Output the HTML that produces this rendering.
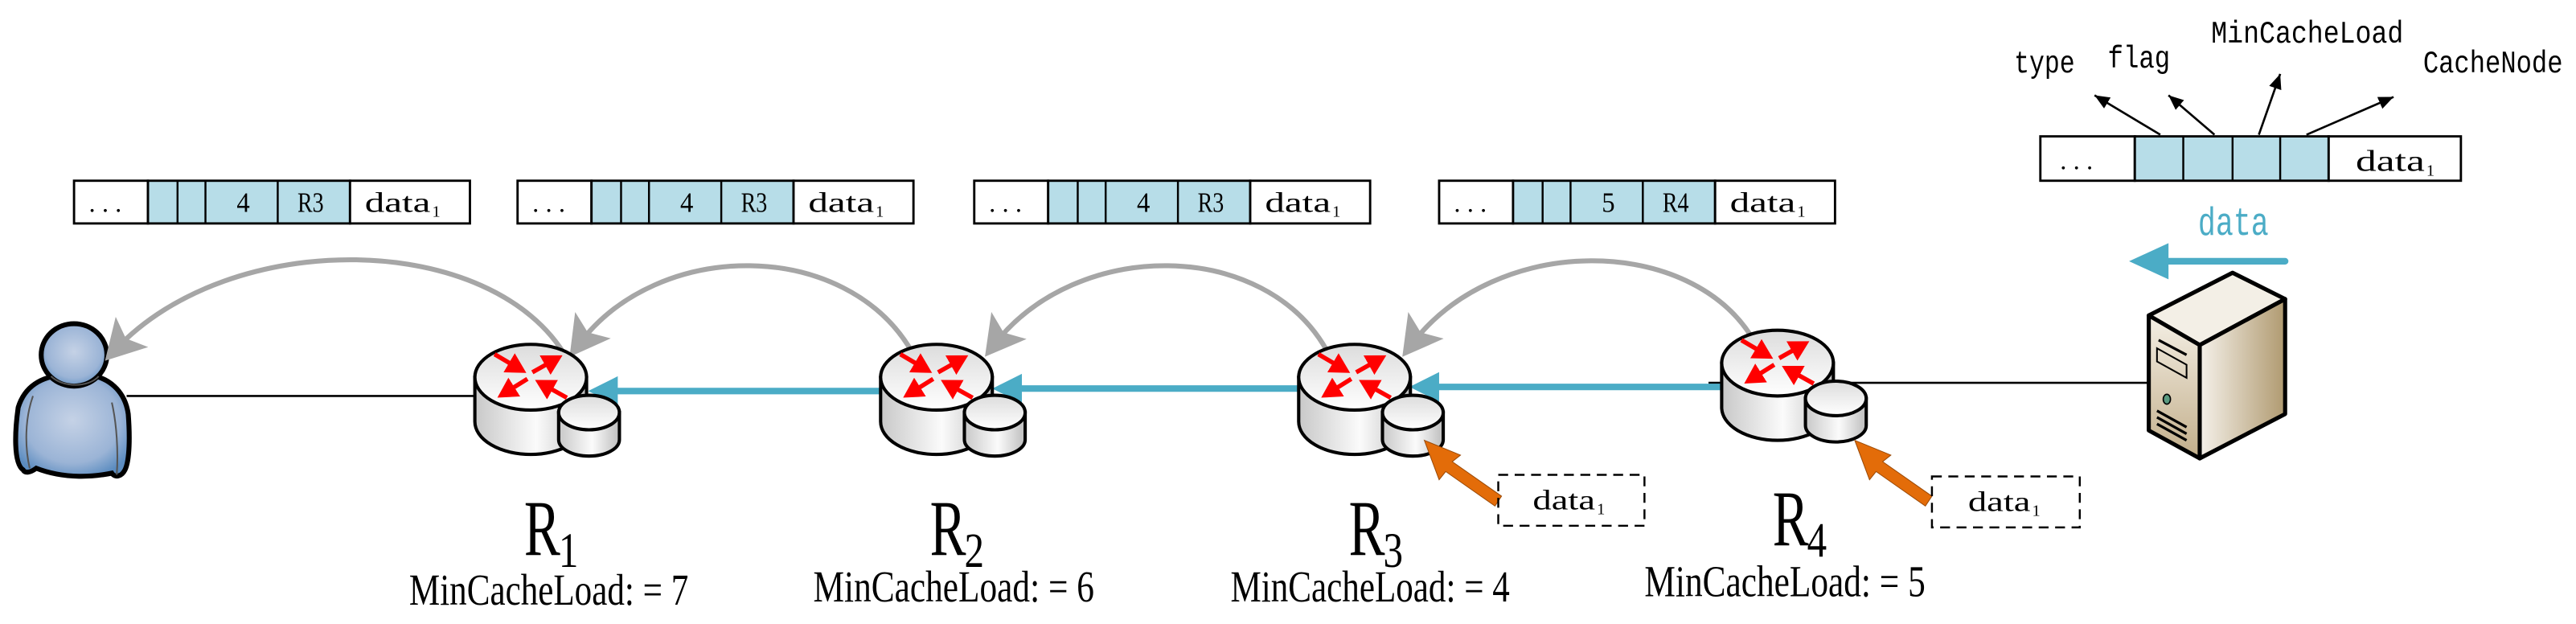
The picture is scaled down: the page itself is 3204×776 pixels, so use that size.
<!DOCTYPE html>
<html><head><meta charset="utf-8"><style>
html,body{margin:0;padding:0;background:#fff;}
svg{display:block;}
</style></head><body>
<svg width="3204" height="776" viewBox="0 0 1568 379.8" xmlns="http://www.w3.org/2000/svg">
<defs>
<linearGradient id="cyl" x1="0" x2="1" y1="0" y2="0">
<stop offset="0" stop-color="#c8c8c8"/><stop offset="0.55" stop-color="#fbfbfb"/><stop offset="1" stop-color="#bdbdbd"/></linearGradient>
<linearGradient id="top" x1="0" x2="0" y1="0" y2="1">
<stop offset="0" stop-color="#dcdcdc"/><stop offset="1" stop-color="#ffffff"/></linearGradient>
<radialGradient id="usr" cx="0.5" cy="0.45" r="0.6">
<stop offset="0" stop-color="#c5d2e6"/><stop offset="0.7" stop-color="#9bb4d6"/><stop offset="1" stop-color="#5b8cc0"/></radialGradient>
<linearGradient id="srvF" x1="0" x2="0" y1="0" y2="1"><stop offset="0" stop-color="#f4efe5"/><stop offset="1" stop-color="#c2ae8a"/></linearGradient>
<linearGradient id="srvR" x1="0" x2="1" y1="0" y2="0"><stop offset="0" stop-color="#f5f1ea"/><stop offset="1" stop-color="#b09a70"/></linearGradient>
<marker id="ga" markerWidth="9" markerHeight="9" refX="5" refY="4.5" orient="auto" markerUnits="strokeWidth"><path d="M0,0 L8,4.5 L0,9 L1.8,4.5 Z" fill="#a6a6a6"/></marker>
<marker id="ra" markerWidth="5" markerHeight="5" refX="3.5" refY="2.5" orient="auto" markerUnits="strokeWidth"><path d="M0,0 L4.5,2.5 L0,5 Z" fill="#ff0000"/></marker>
<marker id="ba" markerWidth="8" markerHeight="8" refX="7" refY="3" orient="auto" markerUnits="strokeWidth"><path d="M0,0 L7,3 L0,6 Z" fill="#000"/></marker>
<g id="router">
<path d="M-34,0 L-34,27 A34,20 0 0 0 34,27 L34,0 Z" fill="url(#cyl)" stroke="#000" stroke-width="2"/>
<ellipse cx="0" cy="0" rx="34" ry="20" fill="url(#top)" stroke="#000" stroke-width="2"/>
<g stroke="#ff0000" stroke-width="2.7" marker-end="url(#ra)">
<line x1="-22" y1="-14" x2="-5" y2="-4"/>
<line x1="1" y1="-3" x2="17" y2="-12"/>
<line x1="-2" y1="1" x2="-18" y2="11"/>
<line x1="22" y1="12.5" x2="5" y2="3"/>
</g>
<path d="M17,21.5 L17,38 A18.5,10 0 0 0 54,38 L54,21.5 Z" fill="url(#cyl)" stroke="#000" stroke-width="2"/>
<ellipse cx="35.5" cy="21.5" rx="18.5" ry="10.5" fill="url(#top)" stroke="#000" stroke-width="2"/>
</g>
</defs>

<!-- packets -->
<g font-family="Liberation Serif, serif" font-size="14" stroke="#000">
<g id="pk">
<rect x="45" y="110" width="45" height="26" fill="#fff" stroke-width="1.4"/>
<rect x="90" y="110" width="123" height="26" fill="#b7dde8" stroke-width="1.4"/>
<line x1="108" y1="110" x2="108" y2="136" stroke-width="1.2"/>
<line x1="125" y1="110" x2="125" y2="136" stroke-width="1.2"/>
<line x1="169" y1="110" x2="169" y2="136" stroke-width="1.2"/>
<rect x="213" y="110" width="73" height="26" fill="#fff" stroke-width="1.4"/>
<text x="54" y="129" stroke="none" font-size="16">. . .</text>
</g>
<use href="#pk" x="270"/><use href="#pk" x="548"/><use href="#pk" x="831"/>
</g>
<g font-family="Liberation Serif, serif" font-size="17" fill="#000">
<text x="144" y="129" textLength="8" lengthAdjust="spacingAndGlyphs">4</text><text x="181" y="129" textLength="16" lengthAdjust="spacingAndGlyphs">R3</text><text x="222" y="129" textLength="40" lengthAdjust="spacingAndGlyphs">data</text><text x="263" y="132" font-size="10">1</text>
<text x="414" y="129" textLength="8" lengthAdjust="spacingAndGlyphs">4</text><text x="451" y="129" textLength="16" lengthAdjust="spacingAndGlyphs">R3</text><text x="492" y="129" textLength="40" lengthAdjust="spacingAndGlyphs">data</text><text x="533" y="132" font-size="10">1</text>
<text x="692" y="129" textLength="8" lengthAdjust="spacingAndGlyphs">4</text><text x="729" y="129" textLength="16" lengthAdjust="spacingAndGlyphs">R3</text><text x="770" y="129" textLength="40" lengthAdjust="spacingAndGlyphs">data</text><text x="811" y="132" font-size="10">1</text>
<text x="975" y="129" textLength="8" lengthAdjust="spacingAndGlyphs">5</text><text x="1012" y="129" textLength="16" lengthAdjust="spacingAndGlyphs">R4</text><text x="1053" y="129" textLength="40" lengthAdjust="spacingAndGlyphs">data</text><text x="1094" y="132" font-size="10">1</text>
</g>

<!-- top-right header -->
<g stroke="#000">
<rect x="1242" y="83" width="57.5" height="27" fill="#fff" stroke-width="1.4"/>
<rect x="1299.5" y="83" width="118" height="27" fill="#b7dde8" stroke-width="1.4"/>
<line x1="1329" y1="83" x2="1329" y2="110" stroke-width="1.2"/>
<line x1="1359" y1="83" x2="1359" y2="110" stroke-width="1.2"/>
<line x1="1388" y1="83" x2="1388" y2="110" stroke-width="1.2"/>
<rect x="1417.5" y="83" width="80.5" height="27" fill="#fff" stroke-width="1.4"/>
<g stroke-width="1.3" marker-end="url(#ba)">
<line x1="1315" y1="82" x2="1275" y2="58"/>
<line x1="1348" y1="82" x2="1320" y2="58"/>
<line x1="1375" y1="82" x2="1388" y2="45"/>
<line x1="1404" y1="82" x2="1457" y2="59"/>
</g>
</g>
<text x="1254" y="103" font-family="Liberation Serif, serif" font-size="16">. . .</text>
<text x="1434" y="104" font-family="Liberation Serif, serif" font-size="18" textLength="42" lengthAdjust="spacingAndGlyphs">data</text><text x="1477" y="107" font-family="Liberation Serif, serif" font-size="10">1</text>
<g font-family="Liberation Mono, monospace" font-size="19" fill="#000">
<text x="1226" y="44" textLength="37" lengthAdjust="spacingAndGlyphs">type</text>
<text x="1283" y="41" textLength="38" lengthAdjust="spacingAndGlyphs">flag</text>
<text x="1346" y="26" textLength="117" lengthAdjust="spacingAndGlyphs">MinCacheLoad</text>
<text x="1475" y="44" textLength="85" lengthAdjust="spacingAndGlyphs">CacheNode</text>
</g>
<text x="1338" y="143" font-family="Liberation Mono, monospace" font-size="24" fill="#4bacc6" textLength="43" lengthAdjust="spacingAndGlyphs">data</text>
<line x1="1391" y1="159" x2="1318" y2="159" stroke="#4bacc6" stroke-width="4" stroke-linecap="round"/>
<path d="M1296,159 L1320,148 L1320,170 Z" fill="#4bacc6"/>

<!-- links -->
<line x1="77" y1="241" x2="290" y2="241" stroke="#000" stroke-width="1.3"/>
<line x1="1040" y1="233" x2="1308" y2="233" stroke="#000" stroke-width="1.3"/>
<g stroke="#4bacc6" stroke-width="4" stroke-linecap="round">
<line x1="536" y1="238" x2="375" y2="238"/>
<line x1="790" y1="236.5" x2="620" y2="236.5"/>
<line x1="1048" y1="235.5" x2="875" y2="235.5"/>
</g>
<g fill="#4bacc6">
<path d="M358,238 L376,229 L376,247 Z"/>
<path d="M604,236.5 L622,227.5 L622,245.5 Z"/>
<path d="M858,235.5 L876,226.5 L876,244.5 Z"/>
</g>

<!-- user -->
<g stroke="#000" stroke-width="3">
<path d="M14,286 C8,282 9,262 11,248 C15,235 25,229 40,228 L52,228 C66,229 76,238 78,252 C79,265 79,280 76,286 C74,290 70,291 68,288 C58,290 40,292 22,285 C18,288 15,288 14,286 Z" fill="url(#usr)"/>
<ellipse cx="45" cy="216" rx="20" ry="19" fill="url(#usr)"/>
</g>
<g stroke="#555" stroke-width="1" fill="none">
<path d="M31,229 C38,236 54,236 60,229"/>
<path d="M20,241 C15,255 15,272 18,285"/>
<path d="M68,245 C71,258 72,275 71,289"/>
</g>

<!-- gray arcs -->
<g stroke="#a6a6a6" stroke-width="3" fill="none" marker-end="url(#ga)">
<path d="M345,218 C300,140 140,138 70,213"/>
<path d="M555,214 C515,145 400,145 352,210"/>
<path d="M808,214 C770,145 655,145 605,210"/>
<path d="M1068,208 C1030,142 910,142 859,210"/>
</g>

<!-- routers -->
<use href="#router" x="323" y="229.6"/>
<use href="#router" x="570" y="229.6"/>
<use href="#router" x="824.5" y="229.6"/>
<use href="#router" x="1082" y="221"/>

<!-- orange arrows & dashed boxes -->
<g fill="#e36c09" stroke="#9a4a08" stroke-width="0.5">
<path d="M867,268 L889,277 L884,281 L914,302 L910,308 L880,287 L876,292 Z"/>
<path d="M1129,268 L1151,277 L1146,281 L1176,302 L1172,308 L1142,287 L1138,292 Z"/>
</g>
<g fill="none" stroke="#000" stroke-width="1.2" stroke-dasharray="6,4">
<rect x="912" y="289" width="89" height="31"/>
<rect x="1176" y="290" width="90" height="31"/>
</g>
<g font-family="Liberation Serif, serif" font-size="17">
<text x="933" y="310" textLength="38" lengthAdjust="spacingAndGlyphs">data</text><text x="972" y="313" font-size="10">1</text>
<text x="1198" y="311" textLength="38" lengthAdjust="spacingAndGlyphs">data</text><text x="1237" y="314" font-size="10">1</text>
</g>

<!-- server -->
<g stroke="#000" stroke-width="2.5" stroke-linejoin="round">
<path d="M1308,192 L1359,166 L1391,182 L1339,210 Z" fill="#f3efe6"/>
<path d="M1339,210 L1391,182 L1391,252 L1339,279 Z" fill="url(#srvR)"/>
<path d="M1308,192 L1339,210 L1339,279 L1308,262 Z" fill="url(#srvF)"/>
</g>
<g stroke="#000" stroke-width="1.6" fill="none">
<line x1="1314" y1="207" x2="1331" y2="216"/>
<path d="M1313,212 L1331,222 L1331,230 L1313,220 Z" stroke-width="1"/>
<line x1="1313" y1="258" x2="1331" y2="268"/>
<line x1="1313" y1="254" x2="1331" y2="264"/>
<line x1="1313" y1="250" x2="1331" y2="260"/>
</g>
<ellipse cx="1319" cy="243" rx="2.2" ry="3" fill="#5a9a80" stroke="#000" stroke-width="0.8"/>

<!-- router labels -->
<g font-family="Liberation Serif, serif" font-size="48">
<text x="319" y="338" textLength="22" lengthAdjust="spacingAndGlyphs">R</text><text x="340" y="345" font-size="30" textLength="12" lengthAdjust="spacingAndGlyphs">1</text>
<text x="566" y="338" textLength="22" lengthAdjust="spacingAndGlyphs">R</text><text x="587" y="345" font-size="30" textLength="12" lengthAdjust="spacingAndGlyphs">2</text>
<text x="821" y="338" textLength="22" lengthAdjust="spacingAndGlyphs">R</text><text x="842" y="345" font-size="30" textLength="12" lengthAdjust="spacingAndGlyphs">3</text>
<text x="1079" y="332" textLength="22" lengthAdjust="spacingAndGlyphs">R</text><text x="1100" y="339" font-size="30" textLength="12" lengthAdjust="spacingAndGlyphs">4</text>
</g>
<g font-family="Liberation Serif, serif" font-size="27">
<text x="249" y="368" textLength="170" lengthAdjust="spacingAndGlyphs">MinCacheLoad: = 7</text>
<text x="495" y="366" textLength="171" lengthAdjust="spacingAndGlyphs">MinCacheLoad: = 6</text>
<text x="749" y="366" textLength="170" lengthAdjust="spacingAndGlyphs">MinCacheLoad: = 4</text>
<text x="1001" y="363" textLength="171" lengthAdjust="spacingAndGlyphs">MinCacheLoad: = 5</text>
</g>
</svg>
</body></html>
